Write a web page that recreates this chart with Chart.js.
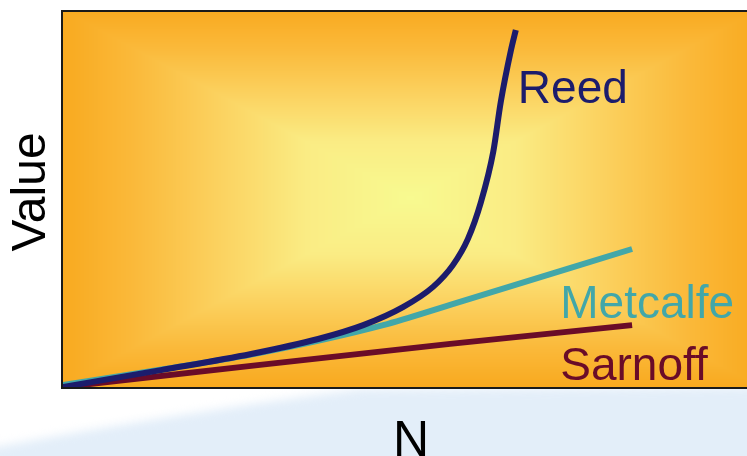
<!DOCTYPE html>
<html>
<head>
<meta charset="utf-8">
<script src="https://cdn.jsdelivr.net/npm/chart.js@4.4.1/dist/chart.umd.min.js"></script>
<style>
  html, body { margin: 0; padding: 0; background: #fff; overflow: hidden; }
  canvas { display: block; }
</style>
</head>
<body>
<canvas id="chart" width="747" height="456"></canvas>
<script>
// series (N and Value in arbitrary 0-100 units)
const reedN = [0, 14.3, 27.5, 37.3, 43.9, 49.7, 54.1, 57.0, 59.2, 61.1, 62.9, 64.0, 65.5, 66.2];
const reedValue = [0, 4.5, 8.8, 12.8, 16.5, 21.3, 26.7, 32.5, 39.5, 49.3, 62.7, 76.0, 89.9, 95.2];

const metcalfeN = [0, 14.2, 28.8, 46.8, 56.6, 83.2];
const metcalfeValue = [0.5, 4.6, 9.1, 16.5, 21.9, 36.8];

const sarnoffN = [0, 28.8, 56.6, 83.2];
const sarnoffValue = [0, 5.9, 11.5, 16.5];

const seriesNames = ['Reed', 'Metcalfe', 'Sarnoff'];
const seriesColors = ['#1c1c6c', '#42a7a9', '#6a0c28'];

const xTitle = 'N';
const yTitle = 'Value';

function toPoints(xs, ys) {
    return xs.map((x, i) => ({ x: x, y: ys[i] }));
}

// rectangular "from centre" gradient of the plot area
const gradStops = [
    [0.00, [249, 170, 32]],
    [0.20, [250, 185, 58]],
    [0.45, [251, 210, 96]],
    [0.70, [250, 236, 132]],
    [1.00, [248, 250, 144]]
];

function gradColor(t) {
    for (let i = 1; i < gradStops.length; i++) {
        if (t <= gradStops[i][0]) {
            const a = gradStops[i - 1], b = gradStops[i];
            const k = (t - a[0]) / (b[0] - a[0]);
            return a[1].map((c, j) => Math.round(c + (b[1][j] - c) * k));
        }
    }
    return gradStops[gradStops.length - 1][1];
}

let plotImage = null;
function makePlotImage(w, h, cx, cy, fullW) {
    const off = document.createElement('canvas');
    off.width = w;
    off.height = h;
    const octx = off.getContext('2d');
    const img = octx.createImageData(w, h);
    const hw = fullW / 2, hh = h / 2;
    for (let y = 0; y < h; y++) {
        for (let x = 0; x < w; x++) {
            const d = Math.max(Math.abs(x - cx) / hw, Math.abs(y - cy) / hh);
            const c = gradColor(Math.max(0, 1 - d));
            const p = (y * w + x) * 4;
            img.data[p] = c[0];
            img.data[p + 1] = c[1];
            img.data[p + 2] = c[2];
            img.data[p + 3] = 255;
        }
    }
    octx.putImageData(img, 0, 0);
    return off;
}

const backdrop = {
    id: 'backdrop',
    beforeDraw(chart) {
        const ctx = chart.ctx;
        const a = chart.chartArea;
        ctx.save();
        ctx.fillStyle = '#ffffff';
        ctx.fillRect(0, 0, chart.width, chart.height);

        // pale blue swoosh under the plot
        ctx.filter = 'blur(5px)';
        ctx.fillStyle = '#e3eef9';
        ctx.beginPath();
        ctx.moveTo(-20, chart.height + 20);
        ctx.lineTo(-20, 450);
        ctx.quadraticCurveTo(170, 414, 360, a.bottom + 2);
        ctx.lineTo(chart.width + 20, a.bottom);
        ctx.lineTo(chart.width + 20, chart.height + 20);
        ctx.closePath();
        ctx.fill();
        ctx.filter = 'none';

        const w = Math.round(a.right - a.left), h = Math.round(a.bottom - a.top);
        if (!plotImage) {
            const fullW = 694;
            plotImage = makePlotImage(w, h, fullW / 2, h / 2 - 2, fullW);
        }
        ctx.drawImage(plotImage, a.left, a.top);
        ctx.restore();
    },
    beforeDatasetsDraw(chart) {
        const ctx = chart.ctx;
        const a = chart.chartArea;
        ctx.save();
        ctx.strokeStyle = '#1a1a1a';
        ctx.lineWidth = 2;
        ctx.strokeRect(a.left - 1, a.top - 1, a.right - a.left + 20, a.bottom - a.top + 2);
        ctx.restore();
    },
    afterDatasetsDraw(chart) {
        const ctx = chart.ctx;
        const xs = chart.scales.x, ys = chart.scales.y;
        // series labels, anchored in data units
        const anchors = [[66.5, 75.7], [72.7, 18.4], [72.7, 1.9]];
        ctx.save();
        ctx.font = '46px "Liberation Sans", Arial, sans-serif';
        ctx.textAlign = 'left';
        ctx.textBaseline = 'alphabetic';
        seriesNames.forEach((name, i) => {
            ctx.fillStyle = seriesColors[i];
            ctx.fillText(name, xs.getPixelForValue(anchors[i][0]), ys.getPixelForValue(anchors[i][1]));
        });

        // axis titles
        ctx.fillStyle = '#000000';
        ctx.font = '50px "Liberation Sans", Arial, sans-serif';
        ctx.textAlign = 'center';
        ctx.fillText(xTitle, 411, 456);

        ctx.font = '48px "Liberation Sans", Arial, sans-serif';
        ctx.translate(45, 192);
        ctx.rotate(-Math.PI / 2);
        ctx.fillText(yTitle, 0, 0);
        ctx.restore();
    }
};

const datasets = [
    { label: seriesNames[0], data: toPoints(reedN, reedValue), cubicInterpolationMode: 'monotone' },
    { label: seriesNames[1], data: toPoints(metcalfeN, metcalfeValue), cubicInterpolationMode: 'monotone' },
    { label: seriesNames[2], data: toPoints(sarnoffN, sarnoffValue), tension: 0 }
].map((d, i) => Object.assign(d, {
    borderColor: seriesColors[i],
    borderWidth: 6,
    pointRadius: 0,
    fill: false
}));

new Chart(document.getElementById('chart'), {
    type: 'line',
    data: { datasets: datasets },
    options: {
        responsive: false,
        animation: false,
        devicePixelRatio: 1,
        layout: { padding: { left: 63, top: 12, right: 0, bottom: 69 } },
        plugins: { legend: { display: false }, tooltip: { enabled: false } },
        scales: {
            x: { type: 'linear', min: 0, max: 100, display: false },
            y: { type: 'linear', min: 0, max: 100, display: false }
        }
    },
    plugins: [backdrop]
});
</script>
</body>
</html>
